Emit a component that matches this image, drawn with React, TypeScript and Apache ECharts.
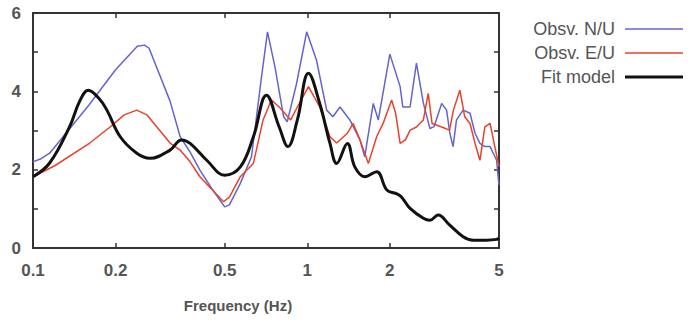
import React, { useEffect, useRef } from "react";
import * as echarts from "echarts";

const FONT = "'Liberation Sans', Arial, sans-serif";

const seriesNames = ["Obsv. N/U", "Obsv. E/U", "Fit model"];
const xTickValues = [0.1, 0.2, 0.5, 1, 2, 5];
const xAxisTitle = "Frequency (Hz)";

// Obsv. N/U : [frequency (Hz), amplitude]
const obsNU: [number, number][] = [
  [0.1, 2.2], [0.107, 2.28], [0.115, 2.42], [0.16, 3.65], [0.2, 4.55], [0.24, 5.15],
  [0.255, 5.18], [0.265, 5.1], [0.316, 3.75], [0.344, 2.84], [0.374, 2.45],
  [0.406, 1.99], [0.45, 1.5], [0.5, 1.05], [0.52, 1.1], [0.57, 1.65], [0.626, 2.33],
  [0.681, 4.37], [0.716, 5.52], [0.762, 4.63], [0.82, 3.35], [0.845, 3.22], [0.914, 4.2],
  [0.995, 5.52], [1.08, 4.8], [1.177, 3.52], [1.24, 3.35], [1.316, 3.6], [1.43, 3.27],
  [1.556, 2.76], [1.62, 2.33], [1.74, 3.69], [1.815, 3.27], [2.0, 4.95], [2.18, 4.12],
  [2.23, 3.6], [2.37, 3.6], [2.5, 4.72], [2.65, 3.7], [2.8, 3.05], [2.9, 3.1],
  [3.09, 3.69], [3.22, 3.52], [3.31, 2.93], [3.4, 2.59], [3.5, 3.27], [3.7, 3.52],
  [3.92, 3.44], [4.09, 2.93], [4.26, 2.67], [4.44, 2.59], [4.64, 2.59], [4.9, 2.24],
  [5.0, 1.6],
];

// Obsv. E/U
const obsEU: [number, number][] = [
  [0.1, 1.82], [0.12, 2.1], [0.161, 2.68], [0.191, 3.09], [0.215, 3.4], [0.239, 3.52],
  [0.26, 3.4], [0.316, 2.68], [0.344, 2.5], [0.374, 2.2], [0.406, 1.82], [0.495, 1.18],
  [0.52, 1.3], [0.57, 1.82], [0.636, 2.16], [0.69, 3.27], [0.74, 3.78], [0.79, 3.6],
  [0.87, 3.27], [0.92, 3.6], [1.01, 4.12], [1.11, 3.6], [1.21, 2.84], [1.28, 2.68],
  [1.4, 2.93], [1.47, 3.18], [1.556, 2.76], [1.67, 2.16], [1.79, 2.84], [1.89, 3.18],
  [2.03, 3.78], [2.1, 3.44], [2.18, 2.67], [2.28, 2.76], [2.37, 3.01], [2.5, 3.09],
  [2.65, 3.27], [2.76, 3.95], [2.85, 3.18], [3.09, 3.09], [3.3, 3.01], [3.41, 3.52],
  [3.6, 4.03], [3.75, 3.35], [3.92, 3.18], [4.09, 2.67], [4.26, 2.24], [4.44, 3.09],
  [4.64, 3.18], [4.8, 2.67], [5.0, 2.07],
];

// Fit model
const fitModel: [number, number][] = [
  [0.1, 1.82], [0.115, 2.17], [0.136, 3.1], [0.148, 3.75], [0.159, 4.03], [0.175, 3.8],
  [0.186, 3.52], [0.208, 2.84], [0.239, 2.42], [0.267, 2.29], [0.316, 2.5], [0.348, 2.76],
  [0.374, 2.67], [0.43, 2.24], [0.5, 1.86], [0.57, 2.07], [0.636, 2.84], [0.71, 3.9],
  [0.79, 3.09], [0.85, 2.59], [0.92, 3.27], [1.01, 4.46], [1.11, 3.69], [1.21, 2.67],
  [1.28, 2.16], [1.4, 2.67], [1.49, 2.07], [1.62, 1.82], [1.79, 1.95], [1.95, 1.48],
  [2.11, 1.39], [2.2, 1.31], [2.37, 1.01], [2.65, 0.76], [2.8, 0.71], [3.0, 0.84],
  [3.3, 0.59], [3.7, 0.29], [4.03, 0.2], [4.5, 0.2], [4.9, 0.22], [5.0, 0.25],
];

const seriesColors = ["#6464cc", "#e8412c", "#111111"];
const seriesWidths = [1.5, 1.5, 3];

export default function App() {
  const ref = useRef<HTMLDivElement>(null);
  useEffect(() => {
    if (!ref.current) return;
    const chart = echarts.init(ref.current, undefined, { renderer: "svg" });
    const axisLine = { show: true, onZero: false, lineStyle: { color: "#333", width: 2 } };
    const xBase = {
      type: "log" as const,
      logBase: 10,
      min: 0.1,
      max: 5,
      splitLine: { show: false },
      minorTick: { show: false },
      axisLine,
    };
    const tickVals = xTickValues.filter((v) => v > 0.1 && v < 5);
    chart.setOption({
      animation: false,
      grid: { left: 33, top: 13, right: 189, bottom: 75, containLabel: false },
      legend: {
        orient: "vertical",
        right: 0,
        top: 15,
        align: "right",
        itemWidth: 58,
        itemHeight: 14,
        itemGap: 6,
        data: seriesNames.map((n, i) => ({
          name: n,
          icon: `path://M0,0H58V${seriesWidths[i]}H0Z`,
        })),
        textStyle: {
          fontSize: 18,
          lineHeight: 18,
          color: "#555",
          fontFamily: FONT,
          padding: [0, 5, 0, 0],
        },
      },
      xAxis: [
        {
          ...xBase,
          position: "bottom",
          axisTick: { show: true, inside: true, length: 5, customValues: tickVals, lineStyle: { color: "#333", width: 1.5 } },
          axisLabel: {
            customValues: xTickValues,
            formatter: (v: number) => String(Number(v.toPrecision(3))),
            fontSize: 17,
            fontWeight: "bold",
            color: "#555",
            fontFamily: FONT,
            margin: 14,
          },
        },
        {
          ...xBase,
          position: "top",
          axisTick: { show: true, inside: true, length: 5, customValues: tickVals, lineStyle: { color: "#333", width: 1.5 } },
          axisLabel: { show: false },
        },
      ],
      yAxis: [
        {
          type: "value",
          min: 0,
          max: 6,
          interval: 1,
          position: "left",
          splitLine: { show: false },
          axisLine,
          axisTick: { show: true, inside: true, length: 5, lineStyle: { color: "#333", width: 1.5 } },
          axisLabel: {
            formatter: (v: number) => (v % 2 === 0 ? String(v) : ""),
            fontSize: 17,
            fontWeight: "bold",
            color: "#555",
            fontFamily: FONT,
            margin: 12,
          },
        },
        {
          type: "value",
          min: 0,
          max: 6,
          interval: 1,
          position: "right",
          splitLine: { show: false },
          axisLine,
          axisTick: { show: true, inside: true, length: 5, lineStyle: { color: "#333", width: 1.5 } },
          axisLabel: { show: false },
        },
      ],
      graphic: [
        {
          type: "text",
          x: 238,
          y: 305,
          style: {
            text: xAxisTitle,
            fontSize: 15,
            fontWeight: "bold",
            fill: "#555",
            fontFamily: FONT,
            textAlign: "center",
            textVerticalAlign: "middle",
          },
        },
      ],
      series: [obsNU, obsEU, fitModel].map((d, i) => ({
        name: seriesNames[i],
        type: "line",
        data: d,
        xAxisIndex: 0,
        yAxisIndex: 0,
        symbol: "none",
        smooth: i === 2 ? 0.4 : false,
        lineStyle: { color: seriesColors[i], width: seriesWidths[i] },
        itemStyle: { color: seriesColors[i] },
        z: 2 + i,
      })),
    });
    return () => chart.dispose();
  }, []);
  return (
    <div
      ref={ref}
      style={{ position: "absolute", left: 0, top: 0, width: 688, height: 323, background: "#fff" }}
    />
  );
}
